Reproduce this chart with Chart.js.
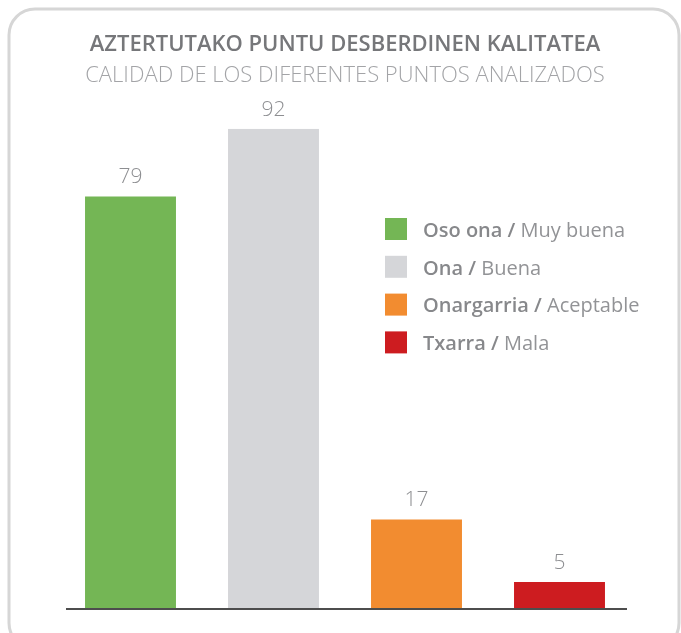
<!DOCTYPE html>
<html>
<head>
<meta charset="utf-8">
<script src="https://cdn.jsdelivr.net/npm/chart.js@4/dist/chart.umd.min.js"></script>
<style>
  html, body { margin: 0; padding: 0; background: #ffffff; }
  #wrap { width: 681px; height: 633px; }
</style>
</head>
<body>
<div id="wrap"><canvas id="c" width="681" height="633"></canvas></div>
<script>
// ---- data ----
const categoriesEu = ['Oso ona /', 'Ona /', 'Onargarria /', 'Txarra /'];
const categoriesEs = ['Muy buena', 'Buena', 'Aceptable', 'Mala'];
const values = [79, 92, 17, 5];
const barColors = ['#74b655', '#d5d6d9', '#f28c30', '#cd1c20'];
const titleEu = 'AZTERTUTAKO PUNTU DESBERDINEN KALITATEA';
const titleEs = 'CALIDAD DE LOS DIFERENTES PUNTOS ANALIZADOS';

const FONT = "'Open Sans', 'Noto Sans', sans-serif";
const TEXT_GRAY = '#8d8e91';

const framePlugin = {
  id: 'frame',
  beforeDraw(chart) {
    const ctx = chart.ctx;
    ctx.save();
    ctx.fillStyle = '#ffffff';
    ctx.fillRect(0, 0, chart.width, chart.height);
    ctx.strokeStyle = '#d6d6d6';
    ctx.lineWidth = 3;
    ctx.beginPath();
    ctx.roundRect(9, 9, 670, 640, 26);
    ctx.stroke();
    ctx.restore();
  }
};

const baselinePlugin = {
  id: 'baseline',
  afterDatasetsDraw(chart) {
    const ctx = chart.ctx;
    const y = chart.chartArea.bottom + 1;
    ctx.save();
    ctx.strokeStyle = '#4d4d4d';
    ctx.lineWidth = 2;
    ctx.beginPath();
    ctx.moveTo(66, y);
    ctx.lineTo(627, y);
    ctx.stroke();
    ctx.restore();
  }
};

const valueLabelPlugin = {
  id: 'valueLabels',
  afterDatasetsDraw(chart) {
    const ctx = chart.ctx;
    const meta = chart.getDatasetMeta(0);
    ctx.save();
    ctx.font = "300 21px " + FONT;
    ctx.fillStyle = TEXT_GRAY;
    ctx.textAlign = 'center';
    ctx.textBaseline = 'middle';
    meta.data.forEach((bar, i) => {
      ctx.fillText(String(values[i]), bar.x, bar.y - 19);
    });
    ctx.restore();
  }
};

const legendPlugin = {
  id: 'customLegend',
  afterDraw(chart) {
    const ctx = chart.ctx;
    ctx.save();
    ctx.textBaseline = 'middle';
    ctx.textAlign = 'left';
    categoriesEu.forEach((eu, i) => {
      const y = 218 + i * 37.8;
      ctx.fillStyle = barColors[i];
      ctx.fillRect(385, y, 22, 22);
      const ty = y + 13;
      ctx.font = "600 20px " + FONT;
      ctx.fillStyle = '#87888b';
      ctx.fillText(eu, 423, ty);
      const w = ctx.measureText(eu + ' ').width;
      ctx.font = "400 20px " + FONT;
      ctx.fillStyle = '#929396';
      ctx.fillText(categoriesEs[i], 423 + w, ty);
    });
    ctx.restore();
  }
};

new Chart(document.getElementById('c'), {
  type: 'bar',
  data: {
    labels: categoriesEu.map((e, i) => e + ' ' + categoriesEs[i]),
    datasets: [{
      data: values,
      backgroundColor: barColors,
      borderWidth: 0,
      barPercentage: 0.636,
      categoryPercentage: 1.0
    }]
  },
  options: {
    responsive: false,
    animation: false,
    layout: { padding: { left: 59, right: 50, top: 8, bottom: 25 } },
    plugins: {
      legend: { display: false },
      tooltip: { enabled: false },
      title: {
        display: true,
        text: titleEu,
        color: '#76777a',
        font: { family: FONT, size: 22, weight: '600' },
        padding: { top: 24, bottom: 4 }
      },
      subtitle: {
        display: true,
        text: titleEs,
        color: '#a3a4a7',
        font: { family: FONT, size: 22, weight: '300' },
        padding: { top: 0, bottom: 40 }
      }
    },
    scales: {
      x: { display: false },
      y: { display: false, min: 0, max: 92 }
    }
  },
  plugins: [framePlugin, baselinePlugin, valueLabelPlugin, legendPlugin]
});
</script>
</body>
</html>
